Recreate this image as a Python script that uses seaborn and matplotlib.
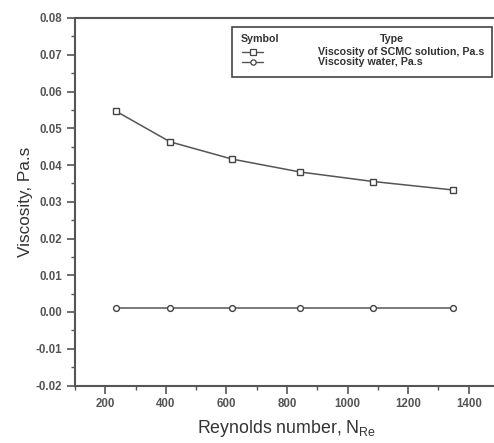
import numpy as np
import pandas as pd
import seaborn as sns
import matplotlib
matplotlib.use("Agg")
import matplotlib.pyplot as plt
from matplotlib.lines import Line2D
from matplotlib.patches import Rectangle
from matplotlib.ticker import MultipleLocator

reynolds = [234, 414, 619, 843, 1085, 1349]
visc_scmc = [0.0547, 0.0463, 0.0416, 0.0381, 0.0355, 0.0332]
visc_water = [0.001, 0.001, 0.001, 0.001, 0.001, 0.001]
series_names = ["Viscosity of SCMC solution, Pa.s", "Viscosity water, Pa.s"]
x_ticks = [200, 400, 600, 800, 1000, 1200, 1400]
y_ticks = [-0.02, -0.01, 0.00, 0.01, 0.02, 0.03, 0.04, 0.05, 0.06, 0.07, 0.08]

sns.set_theme(style="white")
plt.rcParams['font.family'] = ['Liberation Sans', 'DejaVu Sans']
plt.rcParams['mathtext.fontset'] = 'custom'
plt.rcParams['mathtext.rm'] = 'Liberation Sans:bold'
plt.rcParams['mathtext.bf'] = 'Liberation Sans:bold'

df = pd.DataFrame({
    "Re": reynolds * 2,
    "Viscosity": visc_scmc + visc_water,
    "Series": [series_names[0]] * len(reynolds) + [series_names[1]] * len(reynolds),
})

fig = plt.figure(figsize=(4.94, 4.43), dpi=100)
ax = fig.add_axes([75 / 494, 57.5 / 443, 424 / 494, 367.5 / 443])

lc = "#555555"
sns.lineplot(data=df, x="Re", y="Viscosity", hue="Series", style="Series",
             markers={series_names[0]: "s", series_names[1]: "o"}, dashes=False,
             palette={series_names[0]: lc, series_names[1]: lc},
             markersize=4.2, markerfacecolor="white", markeredgecolor="#444444",
             markeredgewidth=1.0, linewidth=1.1, legend=False, ax=ax)

ax.set_xlim(100, 1500)
ax.set_ylim(-0.02, 0.08)
ax.set_xticks(x_ticks)
ax.set_yticks(y_ticks)
ax.set_yticklabels([f"{v:.2f}" for v in y_ticks])
ax.xaxis.set_minor_locator(MultipleLocator(100))
ax.yaxis.set_minor_locator(MultipleLocator(0.005))

for s in ["left", "bottom", "top"]:
    ax.spines[s].set_visible(True)
    ax.spines[s].set_color(lc)
    ax.spines[s].set_linewidth(1.5)
ax.spines["right"].set_visible(False)

ax.tick_params(axis="both", which="major", direction="out", length=6, width=1.2,
               color=lc, labelsize=8.3, labelcolor="#555555", pad=3,
               bottom=True, left=True, top=False, right=False)
ax.tick_params(axis="both", which="minor", direction="out", length=3, width=1.0,
               color=lc, bottom=True, left=True, top=False, right=False)
for lab in ax.get_xticklabels() + ax.get_yticklabels():
    lab.set_fontweight("bold")

ax.set_xlabel(r"Reynolds number, N$_{\mathregular{Re}}$", fontsize=12.8, color="#333333", labelpad=6)
ax.set_ylabel("Viscosity, Pa.s", fontsize=12.3, color="#333333", labelpad=2)
ax.grid(False)

# legend box (figure pixel coords converted)
W, H = 494, 443
def fx(px): return px / W
def fy(py): return 1 - py / H

box = Rectangle((fx(232), fy(77)), fx(492) - fx(232), fy(27) - fy(77),
                transform=fig.transFigure, fill=True, facecolor="white",
                edgecolor="#444444", linewidth=1.2, zorder=5)
fig.add_artist(box)
tkw = dict(transform=fig.transFigure, fontsize=7.7, color="#333333",
           fontweight="bold", va="center", zorder=6)
fig.text(fx(241), fy(39), "Symbol", ha="left", **tkw)
fig.text(fx(392), fy(39), "Type", ha="center", **tkw)
rows_y = [52, 62]
for name, mk, ry in zip(series_names, ["s", "o"], rows_y):
    fig.add_artist(Line2D([fx(242), fx(263)], [fy(ry), fy(ry)], color=lc,
                          linewidth=1.0, transform=fig.transFigure, zorder=6))
    fig.add_artist(Line2D([fx(252.5)], [fy(ry)], marker=mk, markersize=3.8,
                          markerfacecolor="white", markeredgecolor="#444444",
                          markeredgewidth=0.9, linestyle="none",
                          transform=fig.transFigure, zorder=7))
    fig.text(fx(318), fy(ry), name, ha="left", **tkw)

fig.savefig("out.png", dpi=100)
